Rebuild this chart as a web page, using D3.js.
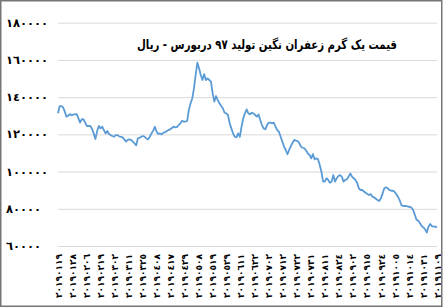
<!DOCTYPE html>
<html>
<head>
<meta charset="utf-8">
<script src="https://cdn.jsdelivr.net/npm/d3@7"></script>
<style>
  body { margin: 0; background: #fff; }
  svg { display: block; }
</style>
</head>
<body>
<script>
const title = 'قیمت یک گرم زعفران نگین تولید ۹۷ دربورس - ریال';

const dateLabels = [
  '٢٠١٩٠١١٩', '٢٠١٩٠١٢٨', '٢٠١٩٠٢٠٦', '٢٠١٩٠٢١٩', '٢٠١٩٠٣٠٢', '٢٠١٩٠٣١١', '٢٠١٩٠٣٢٥',
  '٢٠١٩٠٤٠٨', '٢٠١٩٠٤١٧', '٢٠١٩٠٤٢٩', '٢٠١٩٠٥٠٨', '٢٠١٩٠٥١٩', '٢٠١٩٠٥٢٩', '٢٠١٩٠٦١١',
  '٢٠١٩٠٦٢٢', '٢٠١٩٠٧٠٢', '٢٠١٩٠٧١٢', '٢٠١٩٠٧٢٢', '٢٠١٩٠٧٣١', '٢٠١٩٠٨١١', '٢٠١٩٠٨٢٤',
  '٢٠١٩٠٩٠٢', '٢٠١٩٠٩١٥', '٢٠١٩٠٩٢٤', '٢٠١٩١٠٠٥', '٢٠١٩١٠١٤', '٢٠١٩١٠٣١', '٢٠١٩١١٠٩'
];

const yTicks = [60000, 80000, 100000, 120000, 140000, 160000, 180000];

const prices = [
  131300, 135200, 135200, 134500, 132200, 129500, 130000, 130900, 130200, 130700,
  130700, 130900, 128600, 126300, 128200, 128100, 126300, 124500, 124500, 124500,
  123000, 120500, 117500, 121600, 124500, 123200, 124100, 122300, 120500, 121800,
  120200, 119600, 119100, 118700, 119600, 119600, 118900, 118700, 118400, 117300,
  116100, 117000, 117300, 117000, 116100, 115200, 114100, 117800, 118200, 118700,
  119100, 118700, 117800, 117300, 118700, 120500, 122000, 124100, 121400, 120200,
  120500, 120000, 120900, 121100, 121800, 122300, 122700, 123400, 124100, 123800,
  123900, 125000, 125900, 127300, 126800, 126800, 127300, 133100, 136700, 139300,
  144700, 151900, 158500, 155500, 151900, 149200, 152400, 149200, 150100, 149200,
  148300, 142000, 137600, 140600, 138400, 136700, 135200, 134000, 131600, 131300,
  130400, 125900, 123200, 120500, 118700, 118400, 120500, 118700, 124100, 128600,
  131300, 133400, 131300, 130700, 131600, 131300, 130400, 129500, 130700, 127700,
  125000, 123200, 122700, 125000, 126300, 126300, 125900, 126300, 124100, 122300,
  121400, 118700, 116100, 113400, 111600, 109300, 111600, 113700, 115500, 117000,
  116600, 116400, 115200, 113400, 112800, 112500, 111200, 109800, 108900, 107100,
  109400, 106600, 107100, 106600, 103500, 99900, 94600, 94600, 96400, 95500,
  94000, 94600, 98100, 94600, 96400, 97600, 98100, 97300, 94600, 95500,
  95800, 97300, 99000, 97300, 96400, 95500, 94000, 91000, 90100, 90100,
  89200, 88700, 87900, 87400, 87900, 86500, 86100, 85400, 84700, 84200,
  85600, 88300, 91000, 91500, 91000, 90100, 89700, 89700, 89200, 87900,
  86500, 84700, 82000, 81500, 81500, 81500, 81100, 81100, 80600, 79300,
  76700, 74000, 73600, 72200, 70700, 70000, 69000, 67200, 70400, 71800,
  70700, 70400, 70400, 70000
];

const width = 443,
      height = 308,
      plotLeft = 58,
      plotRight = 437,
      plotTop = 22.7,
      plotBottom = 246;

const toArabicDigits = (n) => String(n).replace(/\d/g, (d) => '٠١٢٣٤٥٦٧٨٩'[d]);

const svg = d3.select('body').append('svg')
  .attr('width', width)
  .attr('height', height);

svg.append('rect')
  .attr('width', width).attr('height', height)
  .attr('fill', '#fff');

const xLine = d3.scaleLinear()
  .domain([0, prices.length - 1])
  .range([plotLeft, plotRight]);

const xCat = d3.scalePoint()
  .domain(dateLabels)
  .range([plotLeft, plotRight]);

const y = d3.scaleLinear()
  .domain([60000, 180000])
  .range([plotBottom, plotTop]);

// grid lines
const yAxis = d3.axisLeft(y)
  .tickValues(yTicks)
  .tickSize(-(plotRight - plotLeft))
  .tickFormat('');

svg.append('g')
  .attr('class', 'grid')
  .attr('transform', 'translate(' + plotLeft + ',0)')
  .call(yAxis)
  .call((g) => g.select('.domain').remove())
  .call((g) => g.selectAll('line').attr('stroke', '#d9d9d9').attr('stroke-width', 1));

// y labels
svg.append('g')
  .selectAll('text')
  .data(yTicks)
  .enter()
  .append('text')
  .attr('x', 6)
  .attr('y', (d) => y(d) + 4)
  .attr('font-family', 'DejaVu Sans')
  .attr('font-weight', 'bold')
  .attr('font-size', 11.5)
  .attr('fill', '#000')
  .text((d) => toArabicDigits(d));

// x labels
const xAxis = d3.axisBottom(xCat).tickSize(0).tickPadding(0);

svg.append('g')
  .attr('transform', 'translate(0,' + plotBottom + ')')
  .call(xAxis)
  .call((g) => g.select('.domain').remove())
  .call((g) => g.selectAll('text')
    .attr('transform', 'rotate(-90)')
    .attr('x', -8)
    .attr('y', 0)
    .attr('dy', '0.35em')
    .attr('text-anchor', 'end')
    .attr('font-family', 'DejaVu Sans')
    .attr('font-weight', 'bold')
    .attr('font-size', 9)
    .attr('fill', '#000'));

// price line
const line = d3.line()
  .x((d, i) => xLine(i))
  .y((d) => y(d));

svg.append('path')
  .datum(prices)
  .attr('d', line)
  .attr('fill', 'none')
  .attr('stroke', '#5b9bd5')
  .attr('stroke-width', 1.8)
  .attr('stroke-linejoin', 'round');

svg.append('text')
  .attr('x', 267)
  .attr('y', 49)
  .attr('text-anchor', 'middle')
  .attr('font-family', 'DejaVu Sans')
  .attr('font-weight', 'bold')
  .attr('font-size', 13)
  .attr('textLength', 260)
  .attr('lengthAdjust', 'spacingAndGlyphs')
  .attr('fill', '#000')
  .text(title);

// frame
svg.append('rect')
  .attr('x', 0.75).attr('y', 0.75)
  .attr('width', width - 2).attr('height', height - 2.5)
  .attr('fill', 'none')
  .attr('stroke', '#767676')
  .attr('stroke-width', 1.5);
</script>
</body>
</html>
